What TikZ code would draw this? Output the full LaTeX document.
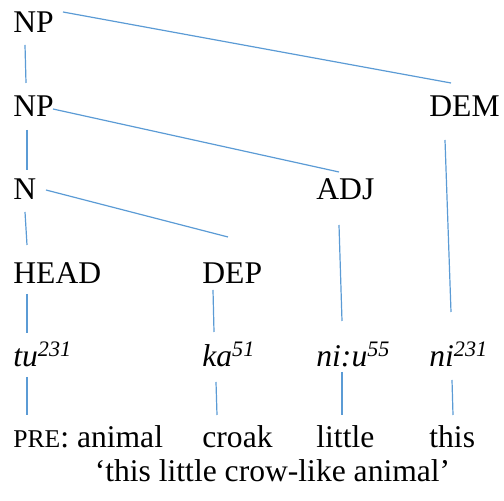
\documentclass[tikz,border=0pt]{standalone}
\usepackage{fontspec}
\setmainfont{Liberation Serif}
\definecolor{treeblue}{RGB}{91,155,213}
\newcommand{\tonemark}[1]{\textsuperscript{#1}}
\tikzset{
  cat/.style={inner sep=0pt, anchor=base west, font=\fontsize{15.8}{18}\selectfont},
  branch/.style={draw=treeblue, line width=0.6pt}
}
\begin{document}
\begin{tikzpicture}[x=0.5pt, y=-0.5pt]
\useasboundingbox (0,0) rectangle (504,501);
%%% categories %%%
\node[cat] (np1) at (13,33) {NP};
\node[cat] (np2) at (13,117) {NP};
\node[cat] (dem) at (429,117) {DEM};
\node[cat] (n) at (13,200) {N};
\node[cat] (adj) at (316,200) {ADJ};
\node[cat] (head) at (13,284) {HEAD};
\node[cat] (dep) at (202,284) {DEP};
%%% words %%%
\node[cat] (tu) at (13,367) {\itshape tu\tonemark{231}};
\node[cat] (ka) at (202,367) {\itshape ka\tonemark{51}};
\node[cat] (niu) at (316,367) {\itshape ni:u\tonemark{55}};
\node[cat] (ni) at (429,367) {\itshape ni\tonemark{231}};
%%% glosses %%%
\node[cat] (pre) at (13,448) {{\fontsize{12.8}{15}\selectfont PRE}: animal};
\node[cat] (croak) at (202,448) {croak};
\node[cat] (little) at (316,448) {little};
\node[cat] (this) at (429,448) {this};
\node[cat, anchor=base] (trans) at (272.5,482) {‘this little crow-like animal’};

%% branches
\draw[branch] ([shift={(50,-21)}]np1.base west) -- ([shift={(22,-34)}]dem.base west);
\draw[branch] ([shift={(12,12)}]np1.base west) -- ([shift={(13,-34)}]np2.base west);
\draw[branch] ([shift={(40,-8)}]np2.base west) -- ([shift={(23,-28)}]adj.base west);
\draw[branch] ([shift={(14,13)}]np2.base west) -- ([shift={(14,-30)}]n.base west);
\draw[branch] ([shift={(33,-10)}]n.base west) -- ([shift={(26,-47)}]dep.base west);
\draw[branch] ([shift={(12,12)}]n.base west) -- ([shift={(14,-39)}]head.base west);
\draw[branch] ([shift={(16,23)}]dem.base west) -- ([shift={(22,-55)}]ni.base west);
\draw[branch] ([shift={(23,25)}]adj.base west) -- ([shift={(26,-46)}]niu.base west);
\draw[branch] ([shift={(14,10)}]head.base west) -- ([shift={(14,-34)}]tu.base west);
\draw[branch] ([shift={(11,6)}]dep.base west) -- ([shift={(12,-35)}]ka.base west);
%% glosses
\draw[branch] ([shift={(14,10)}]tu.base west) -- ([shift={(14,-33)}]pre.base west);
\draw[branch] ([shift={(14,15)}]ka.base west) -- ([shift={(15,-33)}]croak.base west);
\draw[branch] ([shift={(26,5)}]niu.base west) -- ([shift={(26,-33)}]little.base west);
\draw[branch] ([shift={(23,13)}]ni.base west) -- ([shift={(24,-33)}]this.base west);
\end{tikzpicture}
\end{document}
